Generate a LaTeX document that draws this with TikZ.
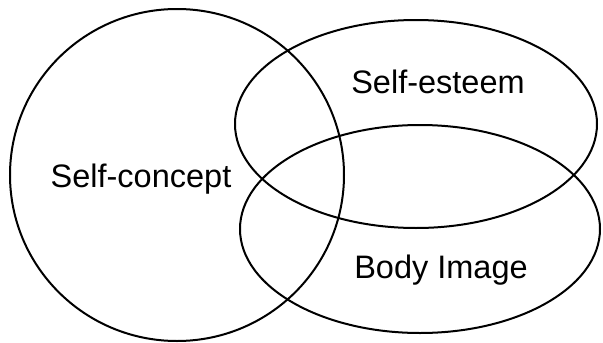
\documentclass[tikz,border=0pt]{standalone}
\usepackage{fontspec}
\setmainfont{Liberation Sans}
\usepackage{tikz}
\usetikzlibrary{positioning}

\begin{document}
\begin{tikzpicture}[
  x=1pt, y=-1pt,
  setline/.style={draw, line width=2pt, black},
  setlabel/.style={font=\fontsize{32.5}{39}\selectfont, anchor=base,
    inner sep=0pt},
]

% ── Frame ───────────────────────────────────────────────
\useasboundingbox (0,0) rectangle (603,343);

% ── Sets ────────────────────────────────────────────────
\draw[setline] (177,175) circle [x radius=167, y radius=166];
\draw[setline] (416,124) ellipse [x radius=181, y radius=104];
\draw[setline] (420,229) ellipse [x radius=180, y radius=104];

% ── Labels ──────────────────────────────────────────────
\node[setlabel] (concept) at (141,187) {Self-concept};
\node[setlabel] (esteem) at (438,93) {Self-esteem};
\node[setlabel] (body) at (441,278) {Body Image};

\end{tikzpicture}
\end{document}
